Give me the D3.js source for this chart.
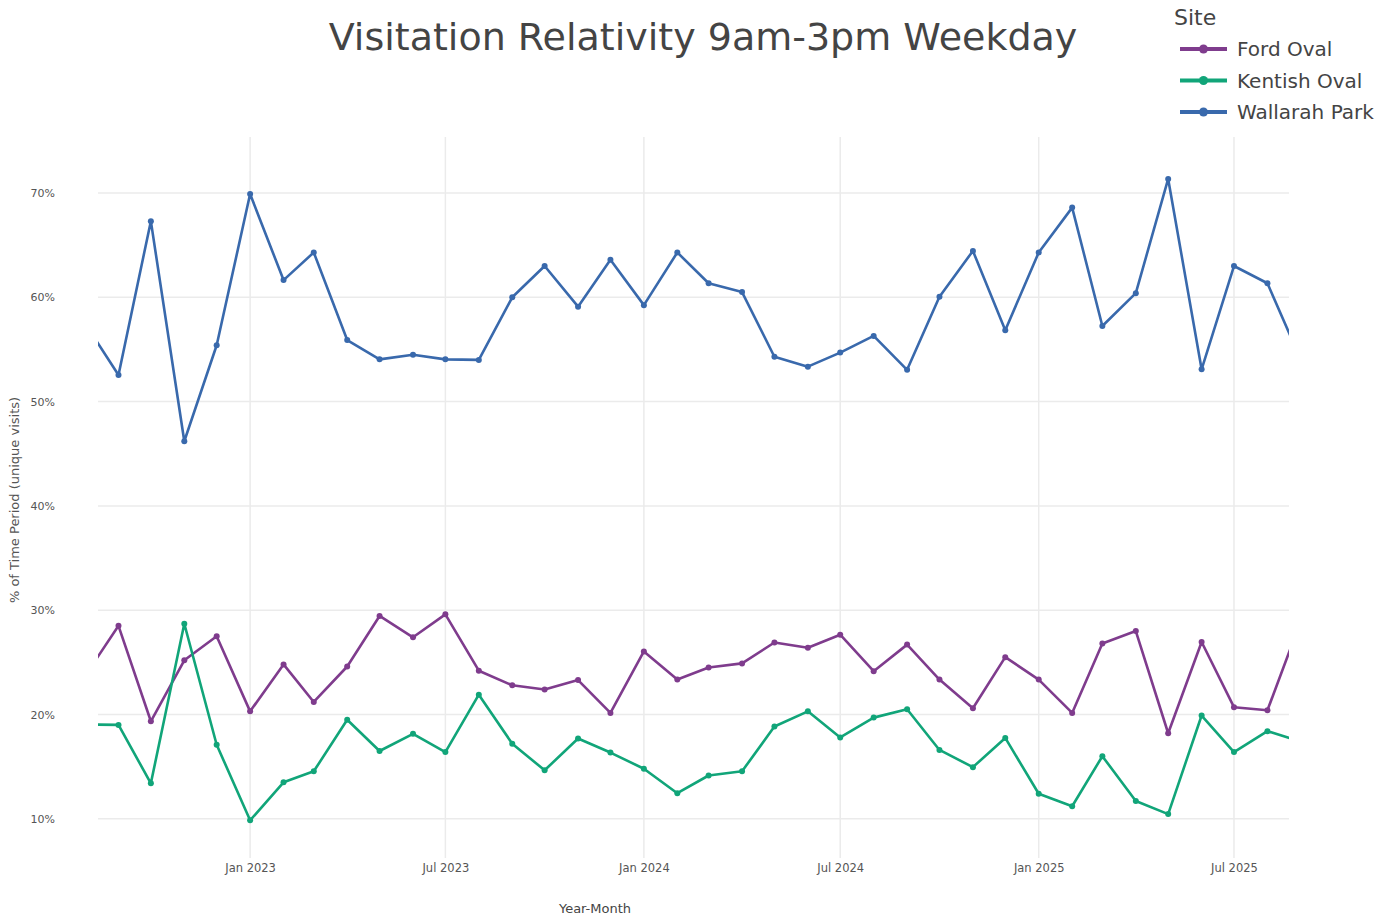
<!DOCTYPE html>
<html>
<head>
<meta charset="utf-8">
<script src="https://cdn.jsdelivr.net/npm/d3@7"></script>
<style>
  body { margin: 0; background: #fff; }
  text { font-family: "DejaVu Sans", Verdana, sans-serif; }
</style>
</head>
<body>
<svg id="chart" width="1393" height="918"></svg>
<script>
// months Aug 2022 .. Sep 2025
var months = [
  "2022-08","2022-09","2022-10","2022-11","2022-12",
  "2023-01","2023-02","2023-03","2023-04","2023-05","2023-06","2023-07","2023-08","2023-09","2023-10","2023-11","2023-12",
  "2024-01","2024-02","2024-03","2024-04","2024-05","2024-06","2024-07","2024-08","2024-09","2024-10","2024-11","2024-12",
  "2025-01","2025-02","2025-03","2025-04","2025-05","2025-06","2025-07","2025-08","2025-09"
];

var fordOval = [
  23.7, 28.5, 19.35, 25.2, 27.5,
  20.3, 24.8, 21.2, 24.6, 29.45, 27.4, 29.6, 24.2, 22.8, 22.4, 23.3, 20.15,
  26.05, 23.35, 24.5, 24.9, 26.9, 26.4, 27.65, 24.15, 26.7, 23.35, 20.6, 25.5,
  23.35, 20.15, 26.8, 28.0, 18.2, 26.95, 20.7, 20.4, 29.0
];

var kentishOval = [
  19.05, 19.0, 13.4, 28.7, 17.1,
  9.85, 13.5, 14.55, 19.5, 16.5, 18.15, 16.4, 21.9, 17.2, 14.65, 17.7, 16.35,
  14.8, 12.45, 14.15, 14.55, 18.85, 20.3, 17.8, 19.7, 20.5, 16.6, 14.95, 17.75,
  12.4, 11.2, 16.0, 11.7, 10.45, 19.9, 16.4, 18.4, 17.4
];

var wallarahPark = [
  57.5, 52.55, 67.3, 46.2, 55.4,
  69.9, 61.65, 64.3, 55.9, 54.05, 54.5, 54.05, 54.0, 60.0, 63.0, 59.1, 63.6,
  59.25, 64.3, 61.35, 60.5, 54.3, 53.35, 54.7, 56.3, 53.05, 60.05, 64.45, 56.85,
  64.3, 68.6, 57.25, 60.4, 71.35, 53.1, 63.0, 61.35, 54.0
];

var siteNames = ["Ford Oval", "Kentish Oval", "Wallarah Park"];
var siteColors = ["#7F3C8D", "#11A579", "#3969AC"];
var yTicks = [10, 20, 30, 40, 50, 60, 70];
var xTicks = ["2023-01","2023-07","2024-01","2024-07","2025-01","2025-07"];

var parseMonth = d3.timeParse("%Y-%m");
var series = [fordOval, kentishOval, wallarahPark].map(function(vals, i){
  return {
    name: siteNames[i],
    color: siteColors[i],
    points: months.map(function(m, j){ return {date: parseMonth(m), value: vals[j]}; })
  };
});

var svg = d3.select("#chart");
var plotLeft = 98, plotRight = 1289, plotTop = 137, plotBottom = 858;

var x = d3.scaleTime()
  .domain([new Date(2022, 7, 13), new Date(2025, 7, 21)])
  .range([plotLeft, plotRight]);
var y = d3.scaleLinear()
  .domain([6.24, 75.37])
  .range([plotBottom, plotTop]);

// grid
var grid = svg.append("g");
grid.selectAll("line.hg").data(yTicks).enter().append("line")
  .attr("x1", plotLeft).attr("x2", plotRight)
  .attr("y1", function(d){ return y(d); }).attr("y2", function(d){ return y(d); })
  .attr("stroke", "#ebebeb").attr("stroke-width", 1.5);
grid.selectAll("line.vg").data(xTicks).enter().append("line")
  .attr("y1", plotTop).attr("y2", plotBottom)
  .attr("x1", function(d){ return x(parseMonth(d)); }).attr("x2", function(d){ return x(parseMonth(d)); })
  .attr("stroke", "#ebebeb").attr("stroke-width", 1.5);

// axes (labels only)
var yAxis = d3.axisLeft(y).tickValues(yTicks).tickSize(0).tickPadding(0)
  .tickFormat(function(d){ return d + "%"; });
svg.append("g").attr("transform", "translate(55,0)").call(yAxis)
  .call(function(g){ g.select(".domain").remove(); })
  .selectAll("text")
  .attr("font-family", "DejaVu Sans, Verdana, sans-serif")
  .attr("font-size", 11).attr("fill", "#555");

var xAxis = d3.axisBottom(x).tickValues(xTicks.map(parseMonth)).tickSize(0).tickPadding(0)
  .tickFormat(d3.timeFormat("%b %Y"));
svg.append("g").attr("transform", "translate(0,864)").call(xAxis)
  .call(function(g){ g.select(".domain").remove(); })
  .selectAll("text")
  .attr("font-family", "DejaVu Sans, Verdana, sans-serif")
  .attr("font-size", 11.5).attr("fill", "#555");

// clip
svg.append("clipPath").attr("id", "plotclip")
  .append("rect").attr("x", plotLeft).attr("y", plotTop)
  .attr("width", plotRight - plotLeft).attr("height", plotBottom - plotTop);

var line = d3.line()
  .x(function(d){ return x(d.date); })
  .y(function(d){ return y(d.value); });

var plot = svg.append("g").attr("clip-path", "url(#plotclip)");
series.forEach(function(s){
  plot.append("path")
    .datum(s.points)
    .attr("d", line)
    .attr("fill", "none")
    .attr("stroke", s.color)
    .attr("stroke-width", 2.6)
    .attr("stroke-linejoin", "round");
  plot.selectAll(null).data(s.points).enter().append("circle")
    .attr("cx", function(d){ return x(d.date); })
    .attr("cy", function(d){ return y(d.value); })
    .attr("r", 3)
    .attr("fill", s.color);
});

// title
svg.append("text")
  .attr("x", 703).attr("y", 50)
  .attr("text-anchor", "middle")
  .attr("font-size", 38)
  .attr("fill", "#444")
  .text("Visitation Relativity 9am-3pm Weekday");

// axis titles
svg.append("text")
  .attr("x", 595).attr("y", 913)
  .attr("text-anchor", "middle")
  .attr("font-size", 13).attr("fill", "#444")
  .text("Year-Month");
svg.append("text")
  .attr("transform", "translate(19,500) rotate(-90)")
  .attr("text-anchor", "middle")
  .attr("font-size", 13).attr("fill", "#555")
  .text("% of Time Period (unique visits)");

// legend
var legend = svg.append("g");
legend.append("text")
  .attr("x", 1174).attr("y", 25)
  .attr("font-size", 22).attr("fill", "#444")
  .text("Site");
series.forEach(function(s, i){
  var ly = 49 + i * 31.5;
  legend.append("line")
    .attr("x1", 1180).attr("x2", 1227).attr("y1", ly).attr("y2", ly)
    .attr("stroke", s.color).attr("stroke-width", 4);
  legend.append("circle")
    .attr("cx", 1203.5).attr("cy", ly).attr("r", 4.5).attr("fill", s.color);
  legend.append("text")
    .attr("x", 1237).attr("y", ly + 7)
    .attr("font-size", 20).attr("fill", "#444")
    .text(s.name);
});
</script>
</body>
</html>
